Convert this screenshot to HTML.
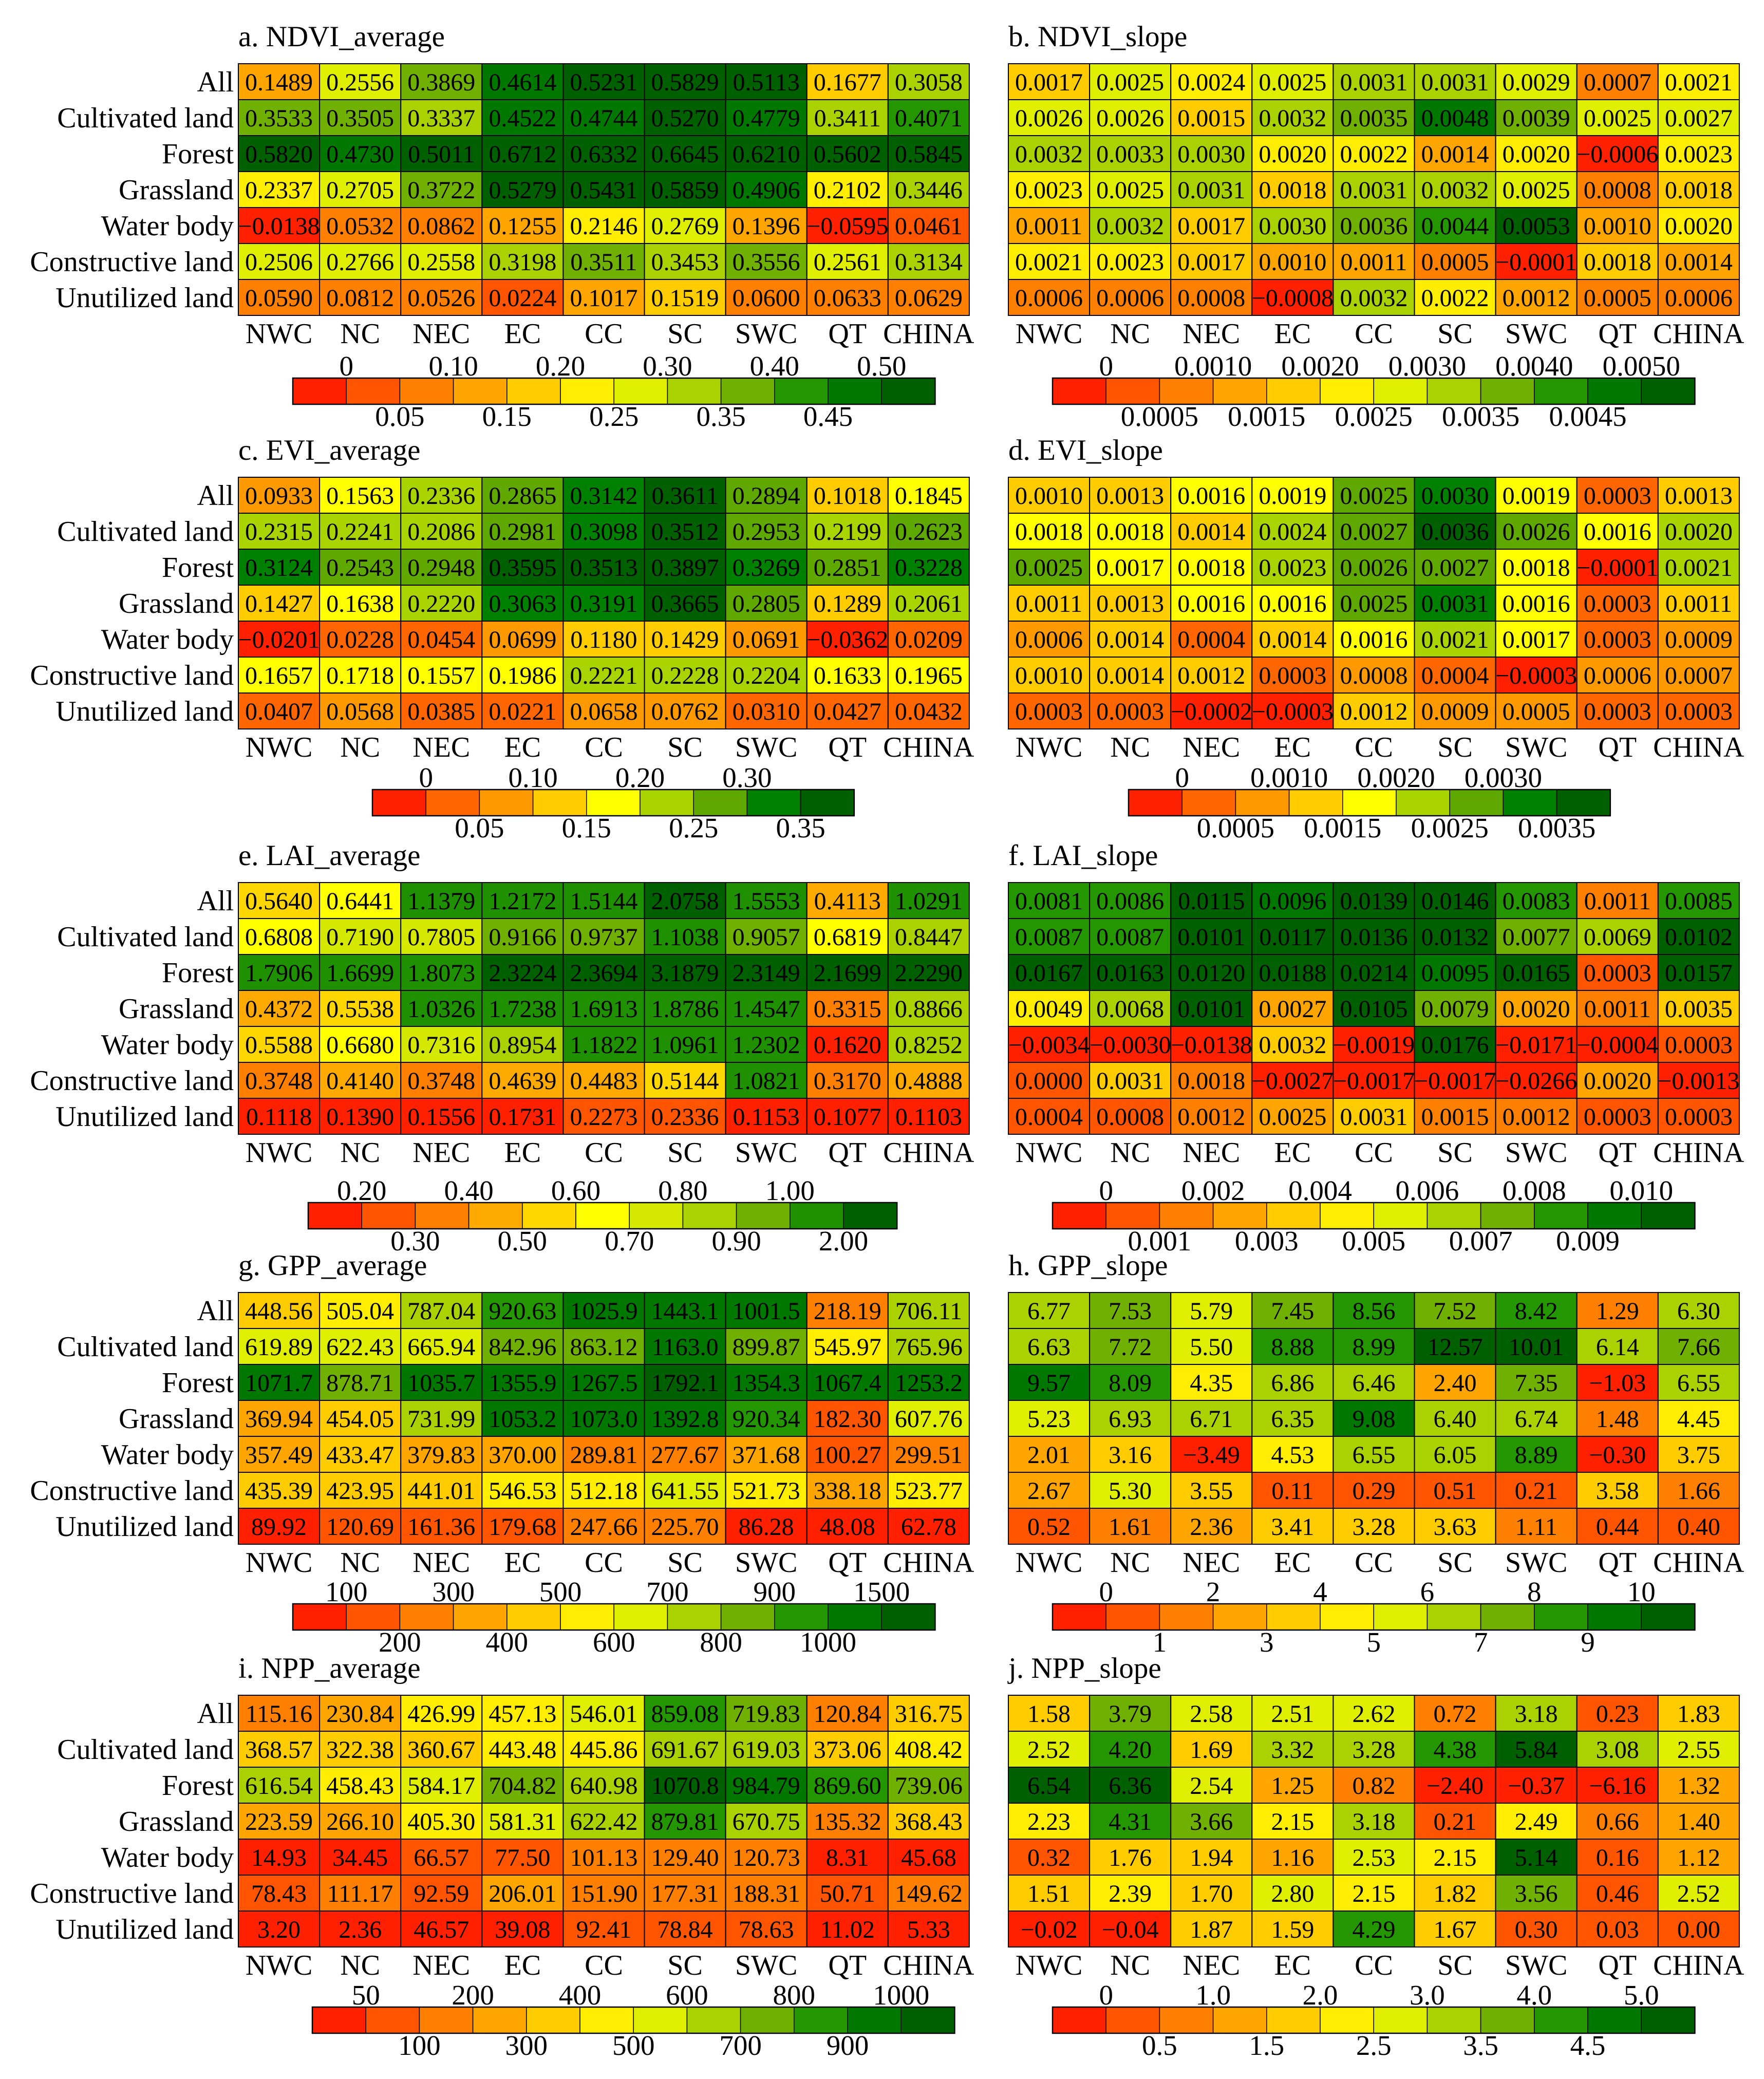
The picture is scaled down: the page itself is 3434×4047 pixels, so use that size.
<!DOCTYPE html>
<html><head><meta charset="utf-8"><style>
html,body{margin:0;padding:0;background:#fff;}
svg{display:block;font-family:"Liberation Serif","Times New Roman",serif;}
svg text{font-family:"Liberation Serif","Times New Roman",serif;}
</style></head><body>
<svg id="fig" xmlns="http://www.w3.org/2000/svg" width="3434" height="4047" viewBox="0 0 3434 4047"></svg>
<script>
const rowNames = ["All","Cultivated land","Forest","Grassland","Water body","Constructive land","Unutilized land"];
const colNames = ["NWC","NC","NEC","EC","CC","SC","SWC","QT","CHINA"];

const ndviAvg = [
[0.1489,0.2556,0.3869,0.4614,0.5231,0.5829,0.5113,0.1677,0.3058],
[0.3533,0.3505,0.3337,0.4522,0.4744,0.5270,0.4779,0.3411,0.4071],
[0.5820,0.4730,0.5011,0.6712,0.6332,0.6645,0.6210,0.5602,0.5845],
[0.2337,0.2705,0.3722,0.5279,0.5431,0.5859,0.4906,0.2102,0.3446],
[-0.0138,0.0532,0.0862,0.1255,0.2146,0.2769,0.1396,-0.0595,0.0461],
[0.2506,0.2766,0.2558,0.3198,0.3511,0.3453,0.3556,0.2561,0.3134],
[0.0590,0.0812,0.0526,0.0224,0.1017,0.1519,0.0600,0.0633,0.0629]];
const ndviSlope = [
[0.0017,0.0025,0.0024,0.0025,0.0031,0.0031,0.0029,0.0007,0.0021],
[0.0026,0.0026,0.0015,0.0032,0.0035,0.0048,0.0039,0.0025,0.0027],
[0.0032,0.0033,0.0030,0.0020,0.0022,0.0014,0.0020,-0.0006,0.0023],
[0.0023,0.0025,0.0031,0.0018,0.0031,0.0032,0.0025,0.0008,0.0018],
[0.0011,0.0032,0.0017,0.0030,0.0036,0.0044,0.0053,0.0010,0.0020],
[0.0021,0.0023,0.0017,0.0010,0.0011,0.0005,-0.0001,0.0018,0.0014],
[0.0006,0.0006,0.0008,-0.0008,0.0032,0.0022,0.0012,0.0005,0.0006]];
const eviAvg = [
[0.0933,0.1563,0.2336,0.2865,0.3142,0.3611,0.2894,0.1018,0.1845],
[0.2315,0.2241,0.2086,0.2981,0.3098,0.3512,0.2953,0.2199,0.2623],
[0.3124,0.2543,0.2948,0.3595,0.3513,0.3897,0.3269,0.2851,0.3228],
[0.1427,0.1638,0.2220,0.3063,0.3191,0.3665,0.2805,0.1289,0.2061],
[-0.0201,0.0228,0.0454,0.0699,0.1180,0.1429,0.0691,-0.0362,0.0209],
[0.1657,0.1718,0.1557,0.1986,0.2221,0.2228,0.2204,0.1633,0.1965],
[0.0407,0.0568,0.0385,0.0221,0.0658,0.0762,0.0310,0.0427,0.0432]];
const eviSlope = [
[0.0010,0.0013,0.0016,0.0019,0.0025,0.0030,0.0019,0.0003,0.0013],
[0.0018,0.0018,0.0014,0.0024,0.0027,0.0036,0.0026,0.0016,0.0020],
[0.0025,0.0017,0.0018,0.0023,0.0026,0.0027,0.0018,-0.0001,0.0021],
[0.0011,0.0013,0.0016,0.0016,0.0025,0.0031,0.0016,0.0003,0.0011],
[0.0006,0.0014,0.0004,0.0014,0.0016,0.0021,0.0017,0.0003,0.0009],
[0.0010,0.0014,0.0012,0.0003,0.0008,0.0004,-0.0003,0.0006,0.0007],
[0.0003,0.0003,-0.0002,-0.0003,0.0012,0.0009,0.0005,0.0003,0.0003]];
const laiAvg = [
[0.5640,0.6441,1.1379,1.2172,1.5144,2.0758,1.5553,0.4113,1.0291],
[0.6808,0.7190,0.7805,0.9166,0.9737,1.1038,0.9057,0.6819,0.8447],
[1.7906,1.6699,1.8073,2.3224,2.3694,3.1879,2.3149,2.1699,2.2290],
[0.4372,0.5538,1.0326,1.7238,1.6913,1.8786,1.4547,0.3315,0.8866],
[0.5588,0.6680,0.7316,0.8954,1.1822,1.0961,1.2302,0.1620,0.8252],
[0.3748,0.4140,0.3748,0.4639,0.4483,0.5144,1.0821,0.3170,0.4888],
[0.1118,0.1390,0.1556,0.1731,0.2273,0.2336,0.1153,0.1077,0.1103]];
const laiSlope = [
[0.0081,0.0086,0.0115,0.0096,0.0139,0.0146,0.0083,0.0011,0.0085],
[0.0087,0.0087,0.0101,0.0117,0.0136,0.0132,0.0077,0.0069,0.0102],
[0.0167,0.0163,0.0120,0.0188,0.0214,0.0095,0.0165,0.0003,0.0157],
[0.0049,0.0068,0.0101,0.0027,0.0105,0.0079,0.0020,0.0011,0.0035],
[-0.0034,-0.0030,-0.0138,0.0032,-0.0019,0.0176,-0.0171,-0.0004,0.0003],
[0.0000,0.0031,0.0018,-0.0027,-0.0017,-0.0017,-0.0266,0.0020,-0.0013],
[0.0004,0.0008,0.0012,0.0025,0.0031,0.0015,0.0012,0.0003,0.0003]];
const gppAvg = [
[448.56,505.04,787.04,920.63,1025.9,1443.1,1001.5,218.19,706.11],
[619.89,622.43,665.94,842.96,863.12,1163.0,899.87,545.97,765.96],
[1071.7,878.71,1035.7,1355.9,1267.5,1792.1,1354.3,1067.4,1253.2],
[369.94,454.05,731.99,1053.2,1073.0,1392.8,920.34,182.30,607.76],
[357.49,433.47,379.83,370.00,289.81,277.67,371.68,100.27,299.51],
[435.39,423.95,441.01,546.53,512.18,641.55,521.73,338.18,523.77],
[89.92,120.69,161.36,179.68,247.66,225.70,86.28,48.08,62.78]];
const gppSlope = [
[6.77,7.53,5.79,7.45,8.56,7.52,8.42,1.29,6.30],
[6.63,7.72,5.50,8.88,8.99,12.57,10.01,6.14,7.66],
[9.57,8.09,4.35,6.86,6.46,2.40,7.35,-1.03,6.55],
[5.23,6.93,6.71,6.35,9.08,6.40,6.74,1.48,4.45],
[2.01,3.16,-3.49,4.53,6.55,6.05,8.89,-0.30,3.75],
[2.67,5.30,3.55,0.11,0.29,0.51,0.21,3.58,1.66],
[0.52,1.61,2.36,3.41,3.28,3.63,1.11,0.44,0.40]];
const nppAvg = [
[115.16,230.84,426.99,457.13,546.01,859.08,719.83,120.84,316.75],
[368.57,322.38,360.67,443.48,445.86,691.67,619.03,373.06,408.42],
[616.54,458.43,584.17,704.82,640.98,1070.8,984.79,869.60,739.06],
[223.59,266.10,405.30,581.31,622.42,879.81,670.75,135.32,368.43],
[14.93,34.45,66.57,77.50,101.13,129.40,120.73,8.31,45.68],
[78.43,111.17,92.59,206.01,151.90,177.31,188.31,50.71,149.62],
[3.20,2.36,46.57,39.08,92.41,78.84,78.63,11.02,5.33]];
const nppSlope = [
[1.58,3.79,2.58,2.51,2.62,0.72,3.18,0.23,1.83],
[2.52,4.20,1.69,3.32,3.28,4.38,5.84,3.08,2.55],
[6.54,6.36,2.54,1.25,0.82,-2.40,-0.37,-6.16,1.32],
[2.23,4.31,3.66,2.15,3.18,0.21,2.49,0.66,1.40],
[0.32,1.76,1.94,1.16,2.53,2.15,5.14,0.16,1.12],
[1.51,2.39,1.70,2.80,2.15,1.82,3.56,0.46,2.52],
[-0.02,-0.04,1.87,1.59,4.29,1.67,0.30,0.03,0.00]];

const ndviAvgBreaks = [0,0.05,0.10,0.15,0.20,0.25,0.30,0.35,0.40,0.45,0.50];
const ndviAvgTop = ["0","0.10","0.20","0.30","0.40","0.50"];
const ndviAvgBot = ["0.05","0.15","0.25","0.35","0.45"];
const ndviSlopeBreaks = [0,0.0005,0.0010,0.0015,0.0020,0.0025,0.0030,0.0035,0.0040,0.0045,0.0050];
const ndviSlopeTop = ["0","0.0010","0.0020","0.0030","0.0040","0.0050"];
const ndviSlopeBot = ["0.0005","0.0015","0.0025","0.0035","0.0045"];
const eviAvgBreaks = [0,0.05,0.10,0.15,0.20,0.25,0.30,0.35];
const eviAvgTop = ["0","0.10","0.20","0.30"];
const eviAvgBot = ["0.05","0.15","0.25","0.35"];
const eviSlopeBreaks = [0,0.0005,0.0010,0.0015,0.0020,0.0025,0.0030,0.0035];
const eviSlopeTop = ["0","0.0010","0.0020","0.0030"];
const eviSlopeBot = ["0.0005","0.0015","0.0025","0.0035"];
const laiAvgBreaks = [0.20,0.30,0.40,0.50,0.60,0.70,0.80,0.90,1.00,2.00];
const laiAvgTop = ["0.20","0.40","0.60","0.80","1.00"];
const laiAvgBot = ["0.30","0.50","0.70","0.90","2.00"];
const laiSlopeBreaks = [0,0.001,0.002,0.003,0.004,0.005,0.006,0.007,0.008,0.009,0.010];
const laiSlopeTop = ["0","0.002","0.004","0.006","0.008","0.010"];
const laiSlopeBot = ["0.001","0.003","0.005","0.007","0.009"];
const gppAvgBreaks = [100,200,300,400,500,600,700,800,900,1000,1500];
const gppAvgTop = ["100","300","500","700","900","1500"];
const gppAvgBot = ["200","400","600","800","1000"];
const gppSlopeBreaks = [0,1,2,3,4,5,6,7,8,9,10];
const gppSlopeTop = ["0","2","4","6","8","10"];
const gppSlopeBot = ["1","3","5","7","9"];
const nppAvgBreaks = [50,100,200,300,400,500,600,700,800,900,1000];
const nppAvgTop = ["50","200","400","600","800","1000"];
const nppAvgBot = ["100","300","500","700","900"];
const nppSlopeBreaks = [0,0.5,1.0,1.5,2.0,2.5,3.0,3.5,4.0,4.5,5.0];
const nppSlopeTop = ["0","1.0","2.0","3.0","4.0","5.0"];
const nppSlopeBot = ["0.5","1.5","2.5","3.5","4.5"];

const pal12 = ["#ff2000","#ff5500","#ff8000","#ffa500","#ffcc00","#ffee00","#e0ef00","#aad200","#70b000","#239600","#007800","#006000"];
const pal11 = ["#ff2000","#ff5500","#ff8000","#ffaa00","#ffd700","#ffff00","#d4e800","#aad200","#70b000","#1f9000","#006000"];
const pal9  = ["#ff2000","#ff6600","#ff9900","#ffcc00","#ffff00","#aad400","#5fa800","#008000","#006000"];

const NS = "http://www.w3.org/2000/svg";
const FF = '"Liberation Serif","Times New Roman",serif';
const svg = document.getElementById("fig");
function el(tag, attrs, parent){const e=document.createElementNS(NS,tag);for(const k in attrs)e.setAttribute(k,attrs[k]);if(tag==="text")e.setAttribute("font-family",FF);(parent||svg).appendChild(e);return e;}
function binOf(v, br){let k=0;while(k<br.length && v>=br[k]-1e-12)k++;return k;}
function fmt(v, mode){
  let s;
  if(mode==="big") s = Math.abs(v)>=1000 ? v.toFixed(1) : v.toFixed(2);
  else s = v.toFixed(mode);
  return s.replace("-","\u2212");
}

const CW = 158.1, RH = 70, BW = 104.2, BH = 51;
function panel(cfg){
  const g = el("g",{});
  
  
  const x0 = cfg.x, y0 = cfg.y;
  const t = el("text",{x:x0,y:y0-34,"font-size":57},g);
  t.textContent = cfg.title;
  
  
  cfg.data.forEach((row,r)=>{
    row.forEach((v,c)=>{
      const cx = x0 + c*CW, cy = y0 + r*RH;
      const rc = el("rect",{x:cx,y:cy,width:CW,height:RH,fill:cfg.pal[binOf(v,cfg.breaks)],stroke:"#000","stroke-width":2},g);
      
      
      const tx = el("text",{x:cx+CW/2,y:cy+RH/2+17,"font-size":48,"text-anchor":"middle"},g);
      tx.textContent = fmt(v,cfg.fmt);
      
      
    });
    if(cfg.rowLabels){
      const rl = el("text",{x:455,y:y0+r*RH+RH/2+19,"font-size":56,"text-anchor":"end"},g);
      rl.textContent = rowNames[r];
      
      
    }
  });
  const yb = y0 + 7*RH;
  colNames.forEach((n,c)=>{
    const cl = el("text",{x:x0+c*CW+CW/2,y:yb+54,"font-size":56,"text-anchor":"middle"},g);
    cl.textContent = n;
    
    
  });
  const bx = cfg.bx, by = cfg.by;
  const nb = cfg.pal.length;
  for(let k=0;k<nb;k++){
    const br = el("rect",{x:bx+k*BW,y:by,width:BW,height:BH,fill:cfg.pal[k],stroke:"#000","stroke-width":1.5},g);
    
    
  }
  el("rect",{x:bx,y:by,width:nb*BW,height:BH,fill:"none",stroke:"#000","stroke-width":2.5},g);
  cfg.top.forEach((s,i)=>{
    const tt = el("text",{x:bx+(1+2*i)*BW,y:by-5,"font-size":55,"text-anchor":"middle"},g);
    tt.textContent = s;
    
    
  });
  cfg.bot.forEach((s,i)=>{
    const tb = el("text",{x:bx+(2+2*i)*BW,y:by+BH+42,"font-size":55,"text-anchor":"middle"},g);
    tb.textContent = s;
    
    
  });
}

const LX = 464, RX = 1963;
panel({name:"ndvi-average-panel",title:"a. NDVI_average",x:LX,y:124,data:ndviAvg,breaks:ndviAvgBreaks,pal:pal12,fmt:4,rowLabels:true,bx:570,by:736,top:ndviAvgTop,bot:ndviAvgBot});
panel({name:"ndvi-slope-panel",title:"b. NDVI_slope",x:RX,y:124,data:ndviSlope,breaks:ndviSlopeBreaks,pal:pal12,fmt:4,rowLabels:false,bx:2049,by:736,top:ndviSlopeTop,bot:ndviSlopeBot});
panel({name:"evi-average-panel",title:"c. EVI_average",x:LX,y:929,data:eviAvg,breaks:eviAvgBreaks,pal:pal9,fmt:4,rowLabels:true,bx:725,by:1537,top:eviAvgTop,bot:eviAvgBot});
panel({name:"evi-slope-panel",title:"d. EVI_slope",x:RX,y:929,data:eviSlope,breaks:eviSlopeBreaks,pal:pal9,fmt:4,rowLabels:false,bx:2197,by:1537,top:eviSlopeTop,bot:eviSlopeBot});
panel({name:"lai-average-panel",title:"e. LAI_average",x:LX,y:1718,data:laiAvg,breaks:laiAvgBreaks,pal:pal11,fmt:4,rowLabels:true,bx:600,by:2341,top:laiAvgTop,bot:laiAvgBot});
panel({name:"lai-slope-panel",title:"f. LAI_slope",x:RX,y:1718,data:laiSlope,breaks:laiSlopeBreaks,pal:pal12,fmt:4,rowLabels:false,bx:2049,by:2341,top:laiSlopeTop,bot:laiSlopeBot});
panel({name:"gpp-average-panel",title:"g. GPP_average",x:LX,y:2516,data:gppAvg,breaks:gppAvgBreaks,pal:pal12,fmt:"big",rowLabels:true,bx:570,by:3122,top:gppAvgTop,bot:gppAvgBot});
panel({name:"gpp-slope-panel",title:"h. GPP_slope",x:RX,y:2516,data:gppSlope,breaks:gppSlopeBreaks,pal:pal12,fmt:2,rowLabels:false,bx:2049,by:3122,top:gppSlopeTop,bot:gppSlopeBot});
panel({name:"npp-average-panel",title:"i. NPP_average",x:LX,y:3300,data:nppAvg,breaks:nppAvgBreaks,pal:pal12,fmt:"big",rowLabels:true,bx:608,by:3907,top:nppAvgTop,bot:nppAvgBot});
panel({name:"npp-slope-panel",title:"j. NPP_slope",x:RX,y:3300,data:nppSlope,breaks:nppSlopeBreaks,pal:pal12,fmt:2,rowLabels:false,bx:2049,by:3907,top:nppSlopeTop,bot:nppSlopeBot});
</script>
</body></html>
